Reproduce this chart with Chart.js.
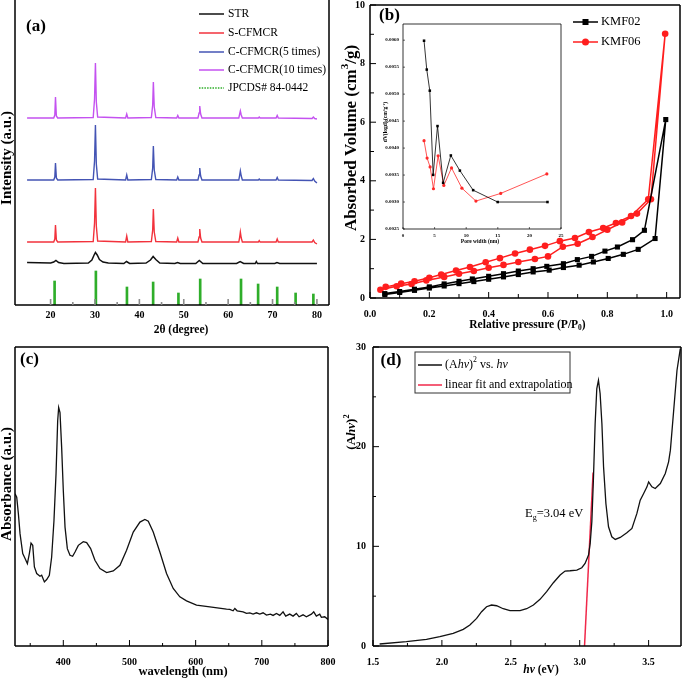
<!DOCTYPE html>
<html>
<head>
<meta charset="utf-8">
<script src="https://cdn.jsdelivr.net/npm/chart.js@4.4.1/dist/chart.umd.min.js"></script>
<style>
  html, body { margin: 0; padding: 0; background: #fff; }
  #wrap { position: relative; width: 685px; height: 688px; overflow: hidden; }
  canvas { position: absolute; }
</style>
</head>
<body>
<div id="wrap">
  <canvas id="chartA" style="left:0px;top:0px" width="340" height="340"></canvas>
  <canvas id="chartB" style="left:340px;top:0px" width="345" height="340"></canvas>
  <canvas id="chartInset" style="left:383px;top:20px" width="182" height="227"></canvas>
  <canvas id="chartC" style="left:0px;top:340px" width="340" height="348"></canvas>
  <canvas id="chartD" style="left:340px;top:340px" width="345" height="348"></canvas>
</div>
<script>
// ---------------- data ----------------

// (a) XRD, 2theta (deg) vs intensity (a.u., patterns stacked)
const xrdTicks = [20, 25, 30, 35, 40, 45, 50, 55, 60, 65, 70, 75, 80];
const xrdLabels = ['20', '', '30', '', '40', '', '50', '', '60', '', '70', '', '80'];
const xrdNames = ['STR', 'S-CFMCR', 'C-CFMCR(5 times)', 'C-CFMCR(10 times)', 'JPCDS# 84-0442'];
const strData = [[14.7,42.5],[20,42],[20.7,43],[21.2,44.5],[21.8,42.5],[23,41.5],[28.5,42],[29.3,45],[29.8,50],[30.1,52.5],
  [30.5,50],[31,45.5],[31.8,43],[33,42],[36.5,41.5],[37.1,43.5],[37.8,41.5],[41.5,42],[42.5,45],[43.1,48.5],[43.7,45.5],
  [44.6,42],[48,41.5],[48.6,42.5],[49.2,41.5],[52.7,41.5],[53.5,44.5],[54.3,41.5],[61.9,41.5],[62.7,43.5],[63.5,41.5],
  [66.1,41.5],[66.35,43.5],[66.6,41.5],[70.5,41.5],[71,42.5],[71.6,41.5],[80,41.5]];
const sData = [[14.7,63],[20.7,63],[20.95,66],[21.1,80],[21.3,65],[21.6,63],[29.6,63.5],[29.9,82],[30.1,117],[30.3,79],
  [30.6,64],[36.9,63],[37.15,69],[37.4,63],[42.7,63.5],[43.0,75],[43.15,96],[43.35,73],[43.7,63.5],[48.4,63],[48.65,67],
  [48.9,63],[53.2,63],[53.45,68],[53.6,76],[53.8,67],[54.1,63],[62.4,63],[62.6,68],[62.75,73],[62.95,67],[63.2,63],
  [66.8,63],[67.0,64.5],[67.2,63],[70.8,63],[71.05,66],[71.3,63],[78.9,63],[79.2,65],[79.5,62.5],[80,61]];
const c5Data = [[14.7,125],[20.7,125],[20.95,128],[21.1,142],[21.3,127],[21.6,125],[29.6,125.5],[29.9,144],[30.1,180],
  [30.3,141],[30.6,126],[36.9,125],[37.15,130],[37.4,125],[42.7,125.5],[43.0,137],[43.15,159],[43.35,135],[43.7,125.5],
  [48.4,125],[48.65,128],[48.9,125],[53.2,125],[53.45,130],[53.6,137],[53.8,129],[54.1,125],[62.4,125],[62.6,130],
  [62.75,134],[62.95,129],[63.2,125],[66.8,125],[67.0,126],[67.2,125],[70.8,125],[71.05,127.5],[71.3,125],[78.9,124.5],
  [79.2,126.5],[79.5,124],[80,122]];
const c10Data = [[14.7,187],[20.7,187],[20.95,190],[21.1,208],[21.3,189],[21.6,187],[29.6,187.5],[29.9,206],[30.1,242],
  [30.3,203],[30.6,188],[36.9,187],[37.15,191],[37.4,187],[42.7,187.5],[43.0,200],[43.15,223],[43.35,198],[43.7,187.5],
  [48.4,187],[48.65,189.5],[48.9,187],[53.2,187],[53.45,192],[53.6,199],[53.8,191],[54.1,187],[62.4,187],[62.6,191],
  [62.75,194],[62.95,190],[63.2,187],[66.8,187],[67.0,188],[67.2,187],[70.8,187],[71.05,189.5],[71.3,187],[78.9,186.5],
  [79.2,188],[79.5,186.5],[80,186]];
const jcpdsPos = [20.9, 30.2, 37.2, 43.1, 48.8, 53.7, 62.9, 66.75, 71.05, 75.2, 79.2];
const jcpdsInt = [24, 34, 18, 23, 12, 26, 26, 21, 18, 12, 11];

// (b) N2 isotherms, adsorption branch up then desorption branch back down
const bTicksX = [0, 0.1, 0.2, 0.3, 0.4, 0.5, 0.6, 0.7, 0.8, 0.9, 1.0];
const bLabelsX = ['0.0', '', '0.2', '', '0.4', '', '0.6', '', '0.8', '', '1.0'];
const bTicksY = [0, 1, 2, 3, 4, 5, 6, 7, 8, 9, 10];
const bLabelsY = ['0', '', '2', '', '4', '', '6', '', '8', '', '10'];
const kmf02P = [0.05,0.10,0.15,0.20,0.25,0.30,0.35,0.40,0.45,0.50,0.55,0.604,0.652,0.705,0.753,0.803,0.854,0.904,0.961,0.997,
  0.925,0.885,0.834,0.792,0.747,0.699,0.652,0.596,0.55,0.50,0.45,0.40,0.345,0.30,0.25,0.20,0.15,0.10,0.05];
const kmf02V = [0.12,0.19,0.26,0.34,0.41,0.49,0.56,0.64,0.72,0.80,0.89,0.95,1.04,1.12,1.23,1.35,1.49,1.66,2.03,6.09,
  2.31,1.99,1.74,1.60,1.42,1.31,1.17,1.08,1.00,0.92,0.83,0.74,0.65,0.57,0.48,0.38,0.30,0.22,0.15];
const kmf06P = [0.035,0.09,0.14,0.19,0.25,0.30,0.35,0.40,0.45,0.50,0.556,0.60,0.65,0.70,0.75,0.80,0.85,0.90,0.947,0.995,
  0.938,0.88,0.829,0.786,0.738,0.691,0.64,0.59,0.539,0.489,0.438,0.39,0.337,0.29,0.24,0.20,0.15,0.105,0.053];
const kmf06V = [0.28,0.40,0.48,0.60,0.72,0.83,0.92,1.03,1.13,1.23,1.33,1.42,1.75,1.85,2.08,2.33,2.58,2.88,3.37,9.02,
  3.37,2.80,2.56,2.39,2.25,2.05,1.94,1.78,1.65,1.52,1.36,1.22,1.06,0.94,0.80,0.69,0.57,0.49,0.38];

// (b) inset: pore size distribution
const poreTicks = [0, 5, 10, 15, 20, 25];
const dvTicks = [0.0025, 0.003, 0.0035, 0.004, 0.0045, 0.005, 0.0055, 0.006];
const poreW02 = [3.33, 3.76, 4.24, 4.77, 5.46, 6.35, 7.57, 9.0, 11.1, 14.98, 22.86];
const dv02 = [0.00599, 0.005455, 0.005064, 0.003503, 0.004408, 0.003356, 0.003863, 0.003582, 0.00322, 0.0030, 0.0030];
const poreW06 = [3.33, 3.81, 4.29, 4.82, 5.56, 6.46, 7.68, 9.32, 11.54, 15.46, 22.76];
const dv06 = [0.004138, 0.003815, 0.00365, 0.003246, 0.003857, 0.003307, 0.003632, 0.003257, 0.003018, 0.00316, 0.003521];

// (c) UV-vis absorbance
const cTicks = [350, 400, 450, 500, 550, 600, 650, 700, 750, 800];
const cLabels = ['', '400', '', '500', '', '600', '', '700', '', '800'];
const wavelength = [327.1,329.6,332.1,334.6,338.7,342.2,345.7,348.7,351.2,353.8,356.3,359.8,364.8,367.3,371.4,374.9,
  378.9,382.4,385.9,389.0,391.5,393.0,395.0,397.5,400.0,402.6,406.1,410.1,414.1,417.7,422.7,430.2,435.3,441.3,447.8,
  455.4,465.5,475.5,485.6,495.6,505.7,515.8,523.3,528.4,535.9,545.9,556.0,566.1,576.1,586.2,601.3,621.4,646.6,651.6,
  656.6,659.2,662.7,671.7,676.8,681.8,686.8,691.9,696.9,701.9,707.0,713.0,717.0,722.1,727.1,732.1,736.1,742.2,747.2,
  752.2,756.3,762.3,767.3,774.9,778.4,782.4,787.5,790.0,795.0,800.0];
const absorbance = [1.527,1.493,1.327,1.127,0.927,0.877,0.827,0.927,1.033,1.010,0.793,0.727,0.700,0.710,0.643,0.667,
  0.710,0.893,1.260,1.727,2.260,2.393,2.343,1.993,1.560,1.193,0.977,0.910,0.900,0.943,1.010,1.047,1.037,0.977,0.860,
  0.777,0.737,0.753,0.810,0.960,1.143,1.243,1.270,1.253,1.143,0.943,0.727,0.577,0.493,0.453,0.410,0.393,0.370,0.367,
  0.353,0.377,0.353,0.343,0.327,0.333,0.320,0.333,0.320,0.333,0.310,0.320,0.307,0.327,0.307,0.343,0.300,0.320,0.300,
  0.327,0.293,0.313,0.293,0.320,0.343,0.300,0.320,0.287,0.293,0.267];

// (d) Tauc plot
const dTicksX = [1.5, 1.75, 2.0, 2.25, 2.5, 2.75, 3.0, 3.25, 3.5];
const dLabelsX = ['1.5', '', '2.0', '', '2.5', '', '3.0', '', '3.5'];
const dTicksY = [0, 5, 10, 15, 20, 25, 30];
const dLabelsY = ['0', '', '10', '', '20', '', '30'];
const hv = [1.548,1.742,1.888,1.985,2.082,2.155,2.203,2.252,2.288,2.324,2.36,2.397,2.445,2.494,2.567,2.615,2.664,2.712,
  2.76,2.809,2.858,2.894,2.93,2.979,3.015,3.039,3.064,3.076,3.088,3.1,3.112,3.124,3.136,3.148,3.161,3.173,3.19,3.209,
  3.233,3.258,3.294,3.342,3.379,3.391,3.415,3.439,3.464,3.488,3.5,3.524,3.548,3.585,3.621,3.645,3.658,3.682,3.706,3.73];
const ahv2 = [0.2,0.43,0.67,0.94,1.27,1.67,2.1,2.77,3.44,3.94,4.11,4.04,3.74,3.54,3.54,3.74,4.11,4.68,5.45,6.35,7.12,
  7.52,7.55,7.62,7.85,8.29,9.12,10.29,12.46,16.97,22.32,25.83,26.66,25.33,22.32,17.98,14.3,11.96,10.96,10.69,10.89,
  11.36,11.79,12.3,13.3,14.63,15.3,15.97,16.47,15.97,15.8,16.3,17.31,18.48,19.65,23.66,27.67,29.84];
const fitHv = [3.035, 3.097];
const fitY = [0, 17.4];

// ---------------- helpers ----------------
const SERIF = '"Liberation Serif", "Times New Roman", serif';
const tickFont = { family: SERIF, size: 10, weight: 'bold' };

function pts(xs, ys) { return xs.map((x, i) => ({ x: x, y: ys[i] })); }

// text made of pieces: [text, ''|'i'|'sup'|'sub']
function drawRich(ctx, segs, x, y, size, bold, rot, align) {
  ctx.save();
  ctx.translate(x, y);
  if (rot) ctx.rotate(-Math.PI / 2);
  const parts = segs.map(s => {
    const small = s[1] === 'sup' || s[1] === 'sub';
    const fs = small ? size * 0.65 : size;
    const f = (s[1] === 'i' ? 'italic ' : '') + (bold ? 'bold ' : '') + fs + 'px ' + SERIF;
    ctx.font = f;
    return { t: s[0], f: f, w: ctx.measureText(s[0]).width,
      dy: s[1] === 'sup' ? -size * 0.38 : (s[1] === 'sub' ? size * 0.3 : 0) };
  });
  const total = parts.reduce((acc, p) => acc + p.w, 0);
  let cx = align === 'left' ? 0 : -total / 2;
  ctx.fillStyle = '#000';
  ctx.textBaseline = 'middle';
  ctx.textAlign = 'left';
  parts.forEach(p => { ctx.font = p.f; ctx.fillText(p.t, cx, p.dy); cx += p.w; });
  ctx.restore();
}

function drawTicks(chart, t) {
  const ctx = chart.ctx, a = chart.chartArea, s = chart.scales[t.axis];
  ctx.save();
  ctx.strokeStyle = t.color || '#000';
  ctx.lineWidth = t.width || 1;
  ctx.beginPath();
  s.ticks.forEach(tk => {
    const p = s.getPixelForValue(tk.value);
    const L = tk.label !== '' ? t.len : t.minor;
    if (t.axis === 'x') { ctx.moveTo(p, a.bottom); ctx.lineTo(p, a.bottom - L); }
    else { ctx.moveTo(a.left, p); ctx.lineTo(a.left + L, p); }
  });
  ctx.stroke();
  ctx.restore();
}

function drawLegend(chart, L) {
  const ctx = chart.ctx;
  ctx.save();
  if (L.box) { ctx.lineWidth = 1; ctx.strokeStyle = '#333'; ctx.strokeRect(L.box[0], L.box[1], L.box[2], L.box[3]); }
  L.items.forEach((it, k) => {
    const ds = chart.data.datasets[it.ds];
    const y = L.ys[k];
    const col = ds.type === 'bar' ? ds.backgroundColor : ds.borderColor;
    ctx.strokeStyle = col;
    ctx.lineWidth = L.lineWidth || 1.5;
    ctx.setLineDash(it.dash || []);
    ctx.beginPath(); ctx.moveTo(L.x0, y); ctx.lineTo(L.x1, y); ctx.stroke();
    ctx.setLineDash([]);
    if (L.markers) {
      const cx = (L.x0 + L.x1) / 2;
      ctx.fillStyle = col;
      if (ds.pointStyle === 'rect') ctx.fillRect(cx - 3, y - 3, 6, 6);
      else { ctx.beginPath(); ctx.arc(cx, y, 3.5, 0, Math.PI * 2); ctx.fill(); }
    }
    drawRich(ctx, it.segs || [[ds.label, '']], L.tx, y, L.size, false, false, 'left');
  });
  ctx.restore();
}

function deco(cfg) {
  return {
    id: 'deco',
    afterDraw(chart) {
      const ctx = chart.ctx, a = chart.chartArea;
      ctx.save();
      ctx.strokeStyle = '#000';
      ctx.lineWidth = cfg.frameWidth || 1.5;
      ctx.beginPath();
      cfg.frame.forEach(side => {
        if (side === 'left') { ctx.moveTo(a.left, a.top); ctx.lineTo(a.left, a.bottom); }
        if (side === 'right') { ctx.moveTo(a.right, a.top); ctx.lineTo(a.right, a.bottom); }
        if (side === 'top') { ctx.moveTo(a.left, a.top); ctx.lineTo(a.right, a.top); }
        if (side === 'bottom') { ctx.moveTo(a.left, a.bottom); ctx.lineTo(a.right, a.bottom); }
      });
      ctx.stroke();
      ctx.restore();
      (cfg.ticks || []).forEach(t => drawTicks(chart, t));
      (cfg.texts || []).forEach(t => drawRich(ctx, t.segs, t.x, t.y, t.size, t.bold, t.rot, t.align));
      if (cfg.legend) drawLegend(chart, cfg.legend);
    }
  };
}

// fixed axis sizes so the plot areas land where the figure has them
function xAxis(min, max, ticks, labels, height, pad, font) {
  return {
    type: 'linear', min: min, max: max,
    grid: { display: false, drawTicks: false }, border: { display: false },
    afterBuildTicks: s => { s.ticks = ticks.map(v => ({ value: v })); },
    afterFit: s => { s.height = height; s.paddingLeft = 0; s.paddingRight = 0; },
    ticks: { autoSkip: false, maxRotation: 0, padding: pad, color: '#000', font: font || tickFont,
      callback: (v, i) => labels ? labels[i] : '', display: !!labels }
  };
}
function yAxis(min, max, ticks, labels, width, pad, font) {
  return {
    type: 'linear', min: min, max: max,
    grid: { display: false, drawTicks: false }, border: { display: false },
    afterBuildTicks: s => { s.ticks = ticks.map(v => ({ value: v })); },
    afterFit: s => { s.width = width; s.paddingTop = 0; s.paddingBottom = 0; },
    ticks: { autoSkip: false, padding: pad, color: '#000', font: font || tickFont,
      callback: (v, i) => labels ? labels[i] : '', display: !!labels }
  };
}
const base = {
  responsive: false, animation: false, devicePixelRatio: 1,
  plugins: { legend: { display: false }, tooltip: { enabled: false } },
  elements: { point: { radius: 0 }, line: { tension: 0 } }
};

// ---------------- (a) ----------------
new Chart(document.getElementById('chartA'), {
  type: 'line',
  data: {
    datasets: [
      { label: xrdNames[0], data: strData, borderColor: '#111111', borderWidth: 1.5 },
      { label: xrdNames[1], data: sData, borderColor: '#f2323c', borderWidth: 1.4 },
      { label: xrdNames[2], data: c5Data, borderColor: '#4454b4', borderWidth: 1.4 },
      { label: xrdNames[3], data: c10Data, borderColor: '#c452f0', borderWidth: 1.4 },
      { type: 'bar', label: xrdNames[4], data: pts(jcpdsPos, jcpdsInt), backgroundColor: '#2fae2a', barThickness: 2 }
    ]
  },
  options: Object.assign({}, base, {
    layout: { padding: { left: 0, right: 11, top: 0, bottom: 0 } },
    scales: {
      x: xAxis(14.7, 80, xrdTicks, xrdLabels, 35, 4),
      y: yAxis(0, 305, [], null, 15, 0)
    }
  }),
  plugins: [deco({
    frame: ['left', 'bottom', 'right'],
    ticks: [{ axis: 'x', len: 6, minor: 3, color: '#8c8c8c', width: 1.6 }],
    texts: [
      { segs: [['(a)', '']], x: 36, y: 27, size: 17, bold: true },
      { segs: [['2θ (degree)', '']], x: 181, y: 330, size: 11.5, bold: true },
      { segs: [['Intensity (a.u.)', '']], x: 7, y: 158, size: 15, bold: true, rot: true }
    ],
    legend: { x0: 199, x1: 224, tx: 228, ys: [14, 33, 52, 70, 88], size: 11.5,
      items: [{ ds: 0 }, { ds: 1 }, { ds: 2 }, { ds: 3 }, { ds: 4, dash: [1.5, 1.2] }] }
  })]
});

// ---------------- (b) ----------------
new Chart(document.getElementById('chartB'), {
  type: 'line',
  data: {
    datasets: [
      { label: 'KMF02', data: pts(kmf02P, kmf02V), borderColor: '#000000', backgroundColor: '#000000',
        borderWidth: 1.5, pointStyle: 'rect', pointRadius: 3.6, pointBackgroundColor: '#000000', pointBorderWidth: 0 },
      { label: 'KMF06', data: pts(kmf06P, kmf06V), borderColor: '#ff1e1e', backgroundColor: '#ff1e1e',
        borderWidth: 1.5, pointStyle: 'circle', pointRadius: 3.3, pointBackgroundColor: '#ff1e1e', pointBorderWidth: 0 }
    ]
  },
  options: Object.assign({}, base, {
    layout: { padding: { left: 0, right: 5, top: 5, bottom: 0 } },
    scales: {
      x: xAxis(0, 1.045, bTicksX, bLabelsX, 42, 10),
      y: yAxis(0, 10, bTicksY, bLabelsY, 30, 5)
    }
  }),
  plugins: [deco({
    frame: ['left', 'bottom', 'right', 'top'],
    ticks: [{ axis: 'x', len: 6, minor: 4 }, { axis: 'y', len: 6, minor: 4 }],
    texts: [
      { segs: [['(b)', '']], x: 49.5, y: 16, size: 17, bold: true },
      { segs: [['Relative pressure (P/P', ''], ['0', 'sub'], [')', '']], x: 187.5, y: 325, size: 11.5, bold: true },
      { segs: [['Absorbed Volume (cm', ''], ['3', 'sup'], ['/g)', '']], x: 11.5, y: 138, size: 17, bold: true, rot: true }
    ],
    legend: { x0: 233, x1: 258, tx: 261, ys: [22, 42], size: 12.5, markers: true, items: [{ ds: 0 }, { ds: 1 }] }
  })]
});

// ---------------- (b) inset ----------------
const insetFont = { family: SERIF, size: 5, weight: 'bold' };
new Chart(document.getElementById('chartInset'), {
  type: 'line',
  data: {
    datasets: [
      { label: 'KMF02', data: pts(poreW02, dv02), borderColor: '#000000', borderWidth: 0.8,
        pointStyle: 'rect', pointRadius: 1.8, pointBackgroundColor: '#000000', pointBorderWidth: 0 },
      { label: 'KMF06', data: pts(poreW06, dv06), borderColor: '#ff2a2a', borderWidth: 0.8,
        pointStyle: 'circle', pointRadius: 1.6, pointBackgroundColor: '#ff2a2a', pointBorderWidth: 0 }
    ]
  },
  options: Object.assign({}, base, {
    layout: { padding: { left: 0, right: 3, top: 3, bottom: 0 } },
    scales: {
      x: xAxis(0, 25, poreTicks, poreTicks.map(String), 18, 4, insetFont),
      y: yAxis(0.0025, 0.0063, dvTicks, dvTicks.map(v => v.toFixed(4)), 20, 4, insetFont)
    }
  }),
  plugins: [deco({
    frame: ['left', 'bottom', 'right', 'top'],
    frameWidth: 0.8,
    ticks: [{ axis: 'x', len: 2, minor: 2, width: 0.6 }, { axis: 'y', len: 2, minor: 2, width: 0.6 }],
    texts: [
      { segs: [['Pore width (nm)', '']], x: 97, y: 222, size: 5.5, bold: true },
      { segs: [['dV(logd) (cm', ''], ['3', 'sup'], ['g', ''], ['-1', 'sup'], [')', '']], x: 3, y: 102, size: 5.5, bold: true, rot: true }
    ]
  })]
});

// ---------------- (c) ----------------
new Chart(document.getElementById('chartC'), {
  type: 'line',
  data: { datasets: [{ label: 'Absorbance', data: pts(wavelength, absorbance), borderColor: '#111111', borderWidth: 1.3 }] },
  options: Object.assign({}, base, {
    layout: { padding: { left: 0, right: 12, top: 7, bottom: 0 } },
    scales: {
      x: xAxis(327, 800, cTicks, cLabels, 42, 10),
      y: yAxis(0, 3, [], null, 15, 0)
    }
  }),
  plugins: [deco({
    frame: ['left', 'bottom', 'right', 'top'],
    ticks: [{ axis: 'x', len: 6, minor: 3 }],
    texts: [
      { segs: [['(c)', '']], x: 29.5, y: 20, size: 17, bold: true },
      { segs: [['wavelength (nm)', '']], x: 183, y: 332, size: 12.5, bold: true },
      { segs: [['Absorbance (a.u.)', '']], x: 7.5, y: 144, size: 15, bold: true, rot: true }
    ]
  })]
});

// ---------------- (d) ----------------
new Chart(document.getElementById('chartD'), {
  type: 'line',
  data: {
    datasets: [
      { label: '(Ahv)2 vs. hv', data: pts(hv, ahv2), borderColor: '#111111', borderWidth: 1.3 },
      { label: 'linear fit and extrapolation', data: pts(fitHv, fitY), borderColor: '#f0284a', borderWidth: 1.5 }
    ]
  },
  options: Object.assign({}, base, {
    layout: { padding: { left: 0, right: 4, top: 7, bottom: 0 } },
    scales: {
      x: xAxis(1.5, 3.735, dTicksX, dLabelsX, 42, 10),
      y: yAxis(0, 30, dTicksY, dLabelsY, 33, 7)
    }
  }),
  plugins: [deco({
    frame: ['left', 'bottom', 'right', 'top'],
    ticks: [{ axis: 'x', len: 6, minor: 3 }, { axis: 'y', len: 6, minor: 3 }],
    texts: [
      { segs: [['(d)', '']], x: 51, y: 21, size: 17, bold: true },
      { segs: [['hv', 'i'], [' (eV)', '']], x: 201, y: 330, size: 11.5, bold: true },
      { segs: [['(A', ''], ['hv', 'i'], [')', ''], ['2', 'sup']], x: 12, y: 92, size: 13, bold: true, rot: true },
      { segs: [['E', ''], ['g', 'sub'], ['=3.04 eV', '']], x: 185, y: 174, size: 12.5, bold: false, align: 'left' }
    ],
    legend: { x0: 78, x1: 102, tx: 105, ys: [25, 45], size: 12, box: [75, 12, 155, 41], lineWidth: 1.5,
      items: [{ ds: 0, segs: [['(A', ''], ['hv', 'i'], [')', ''], ['2', 'sup'], [' vs. ', ''], ['hv', 'i']] }, { ds: 1 }] }
  })]
});
</script>
</body>
</html>
